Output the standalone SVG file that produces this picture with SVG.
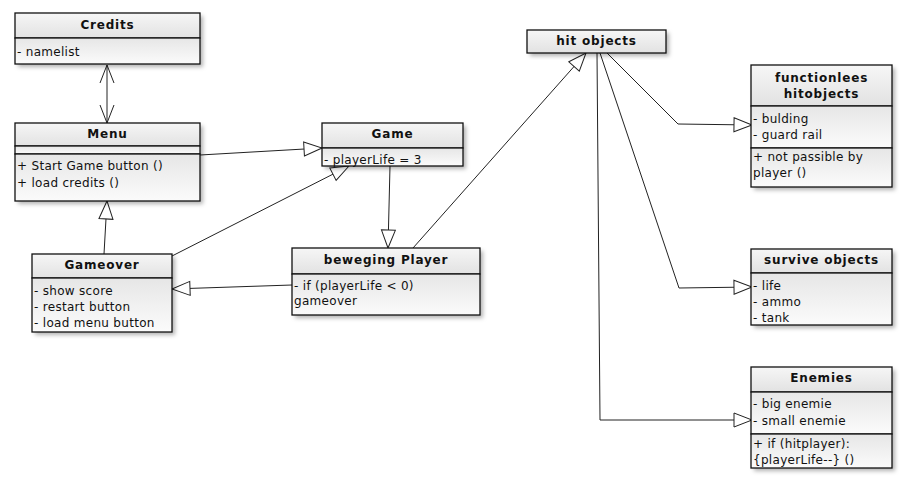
<svg xmlns="http://www.w3.org/2000/svg" width="907" height="484" viewBox="0 0 907 484">
<style>
text{font-family:"DejaVu Sans",Verdana,sans-serif;font-size:12px;fill:#111;letter-spacing:0.3px}
.t{font-weight:bold;text-anchor:middle;letter-spacing:0.8px}
.box{stroke:#111;stroke-width:1.3}
.hd{fill:url(#gh)}
.bd{fill:url(#gb)}
.c{fill:none;stroke:#222;stroke-width:1}
</style>
<defs>
<linearGradient id="gh" x1="0" y1="0" x2="0" y2="1"><stop offset="0" stop-color="#f6f6f6"/><stop offset="1" stop-color="#e2e2e2"/></linearGradient>
<linearGradient id="gb" x1="0" y1="0" x2="0" y2="1"><stop offset="0" stop-color="#e6e6e6"/><stop offset="1" stop-color="#fbfbfb"/></linearGradient>
<filter id="sh" x="-10%" y="-10%" width="130%" height="140%"><feDropShadow dx="3" dy="3" stdDeviation="2" flood-color="#000" flood-opacity="0.3"/></filter>
<marker id="tri" markerUnits="userSpaceOnUse" markerWidth="22" markerHeight="18" refX="19" refY="8" orient="auto"><path d="M1,1 L19,8 L1,15 Z" fill="#fff" stroke="#222" stroke-width="1"/></marker>
<marker id="opn" markerUnits="userSpaceOnUse" markerWidth="22" markerHeight="18" refX="19" refY="8" orient="auto"><path d="M1,1 L19,8 L1,15" fill="none" stroke="#222" stroke-width="1"/></marker>
<marker id="opns" markerUnits="userSpaceOnUse" markerWidth="22" markerHeight="18" refX="1" refY="8" orient="auto"><path d="M19,1 L1,8 L19,15" fill="none" stroke="#222" stroke-width="1"/></marker>
</defs>

<g id="connectors">
<line class="c" x1="107" y1="65" x2="107" y2="123" marker-start="url(#opns)" marker-end="url(#opn)"/>
<line class="c" x1="104" y1="254" x2="107" y2="201" marker-end="url(#tri)"/>
<line class="c" x1="200" y1="155" x2="322" y2="148" marker-end="url(#tri)"/>
<line class="c" x1="172" y1="256" x2="349" y2="166" marker-end="url(#tri)"/>
<line class="c" x1="390" y1="166" x2="388" y2="248" marker-end="url(#tri)"/>
<line class="c" x1="292" y1="285" x2="172" y2="289" marker-end="url(#tri)"/>
<line class="c" x1="413" y1="248" x2="586" y2="53" marker-end="url(#tri)"/>
<polyline class="c" points="607,53 678,124 752,125" marker-end="url(#tri)"/>
<polyline class="c" points="600,53 679,288 752,287" marker-end="url(#tri)"/>
<polyline class="c" points="597,53 600,420 752,420" marker-end="url(#tri)"/>
</g>

<g id="credits">
<rect x="15" y="13" width="185" height="51" fill="#fff" filter="url(#sh)"/>
<rect class="box hd" x="15" y="13" width="185" height="25"/>
<rect class="box bd" x="15" y="38" width="185" height="26"/>
<text class="t" x="107.5" y="29">Credits</text>
<text x="17" y="56">- namelist</text>
</g>

<g id="menu">
<rect x="15" y="123" width="185" height="78" fill="#fff" filter="url(#sh)"/>
<rect class="box hd" x="15" y="123" width="185" height="23"/>
<rect class="box bd" x="15" y="146" width="185" height="8"/>
<rect class="box bd" x="15" y="154" width="185" height="47"/>
<text class="t" x="107.5" y="138">Menu</text>
<text x="17" y="170">+ Start Game button ()</text>
<text x="17" y="187">+ load credits ()</text>
</g>

<g id="gameover">
<rect x="32" y="254" width="140" height="78" fill="#fff" filter="url(#sh)"/>
<rect class="box hd" x="32" y="254" width="140" height="24"/>
<rect class="box bd" x="32" y="278" width="140" height="54"/>
<text class="t" x="102" y="269">Gameover</text>
<text x="34" y="295">- show score</text>
<text x="34" y="311">- restart button</text>
<text x="34" y="327">- load menu button</text>
</g>

<g id="game">
<rect x="322" y="123" width="141" height="43" fill="#fff" filter="url(#sh)"/>
<rect class="box hd" x="322" y="123" width="141" height="25"/>
<rect class="box bd" x="322" y="148" width="141" height="18"/>
<text class="t" x="392.5" y="138">Game</text>
<text x="324" y="164">- playerLife = 3</text>
</g>

<g id="beweging-player">
<rect x="292" y="248" width="188" height="67" fill="#fff" filter="url(#sh)"/>
<rect class="box hd" x="292" y="248" width="188" height="26"/>
<rect class="box bd" x="292" y="274" width="188" height="41"/>
<text class="t" x="386" y="264">beweging Player</text>
<text x="294" y="290">- if (playerLife &lt; 0)</text>
<text x="294" y="305">gameover</text>
</g>

<g id="hit-objects">
<rect x="527" y="30" width="139" height="23" fill="#fff" filter="url(#sh)"/>
<rect class="box hd" x="527" y="30" width="139" height="23"/>
<text class="t" x="596.5" y="45">hit objects</text>
</g>

<g id="functionlees-hitobjects">
<rect x="751" y="65" width="141" height="122" fill="#fff" filter="url(#sh)"/>
<rect class="box hd" x="751" y="65" width="141" height="41"/>
<rect class="box bd" x="751" y="106" width="141" height="42"/>
<rect class="box bd" x="751" y="148" width="141" height="39"/>
<text class="t" x="821.5" y="82">functionlees</text>
<text class="t" x="821.5" y="98">hitobjects</text>
<text x="753" y="123">- bulding</text>
<text x="753" y="139">- guard rail</text>
<text x="753" y="161">+ not passible by</text>
<text x="753" y="177">player ()</text>
</g>

<g id="survive-objects">
<rect x="751" y="249" width="141" height="76" fill="#fff" filter="url(#sh)"/>
<rect class="box hd" x="751" y="249" width="141" height="24"/>
<rect class="box bd" x="751" y="273" width="141" height="52"/>
<text class="t" x="821.5" y="264">survive objects</text>
<text x="753" y="290">- life</text>
<text x="753" y="306">- ammo</text>
<text x="753" y="322">- tank</text>
</g>

<g id="enemies">
<rect x="751" y="367" width="141" height="101" fill="#fff" filter="url(#sh)"/>
<rect class="box hd" x="751" y="367" width="141" height="25"/>
<rect class="box bd" x="751" y="392" width="141" height="42"/>
<rect class="box bd" x="751" y="434" width="141" height="34"/>
<text class="t" x="821.5" y="382">Enemies</text>
<text x="753" y="408">- big enemie</text>
<text x="753" y="425">- small enemie</text>
<text x="753" y="448">+ if (hitplayer):</text>
<text x="753" y="464">{playerLife--} ()</text>
</g>
</svg>
